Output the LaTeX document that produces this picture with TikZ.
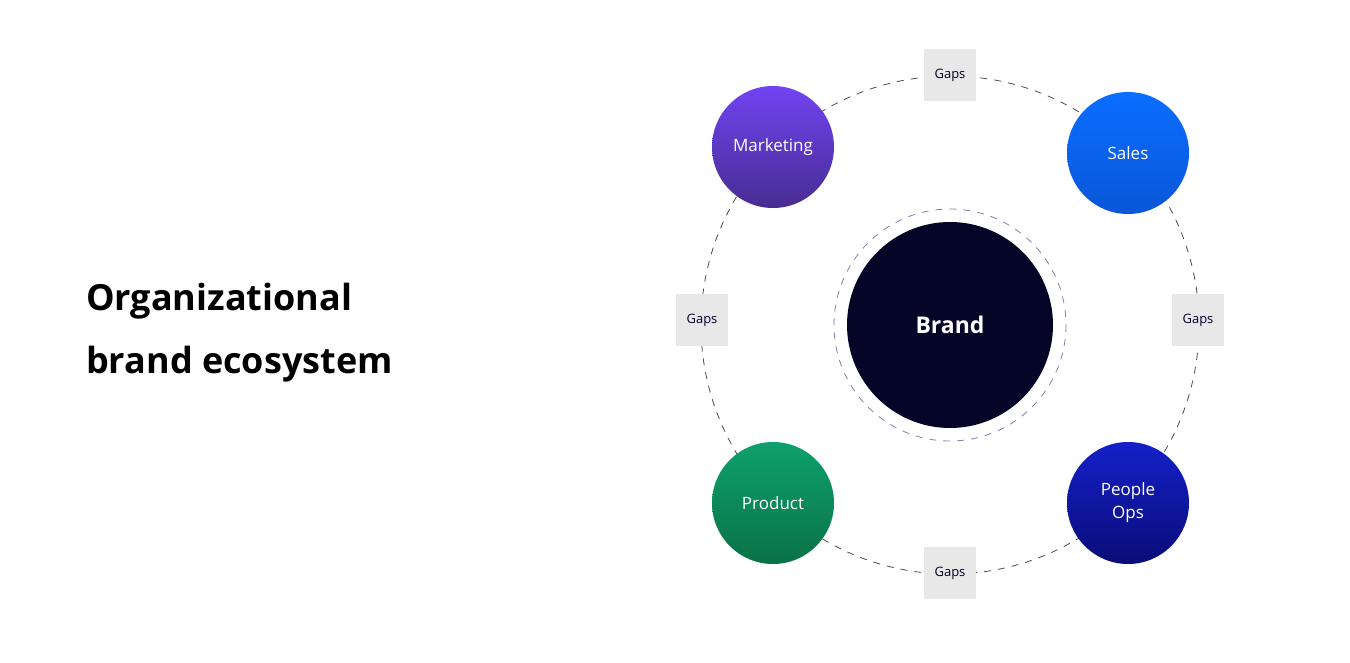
\documentclass[tikz,border=0pt]{standalone}
\usepackage{fontspec}
\setmainfont{Open Sans}
\begin{document}
\begin{tikzpicture}[x=1pt,y=-1pt,
  sat/.style={circle,minimum size=122pt,inner sep=0pt,text=white,font=\fontsize{17}{21}\selectfont,align=center},
  gap/.style={fill=black!9,minimum size=52pt,inner sep=0pt,font=\fontsize{13}{15}\selectfont,text=black!85!blue},
  ring/.style={dash pattern=on 7pt off 7pt,line width=0.8pt}]
\useasboundingbox (0,0) rectangle (1350,662);
\fill[white] (0,0) rectangle (1350,662);
\coordinate (c) at (950,325);
\draw[ring,black!70] (c) circle[radius=249];
\draw[ring,blue!40!black!50] (c) circle[radius=116];
\node[circle,minimum size=206pt,fill={rgb,255:red,5;green,5;blue,40},text=white,font=\bfseries\fontsize{23}{27}\selectfont] (brand) at (c) {Brand};
\node[sat,top color={rgb,255:red,112;green,68;blue,242},bottom color={rgb,255:red,72;green,44;blue,145}] (mk) at (773,147) {Marketing};
\node[sat,top color={rgb,255:red,10;green,110;blue,255},bottom color={rgb,255:red,10;green,86;blue,216}] (sl) at (1128,153) {Sales};
\node[sat,top color={rgb,255:red,14;green,160;blue,110},bottom color={rgb,255:red,10;green,114;blue,70}] (pr) at (773,503) {Product};
\node[sat,top color={rgb,255:red,20;green,32;blue,200},bottom color={rgb,255:red,10;green,12;blue,120}] (po) at (1128,503) {People\\[2pt]Ops};
\node[gap] (g1) at (950,75) {Gaps};
\node[gap] (g2) at (950,573) {Gaps};
\node[gap] (g3) at (702,320) {Gaps};
\node[gap] (g4) at (1198,320) {Gaps};
\node[anchor=base west,font=\bfseries\fontsize{36}{40}\selectfont,inner sep=0pt] (t1) at (86,310) {Organizational};
\node[anchor=base west,font=\bfseries\fontsize{36}{40}\selectfont,inner sep=0pt] (t2) at (86,373) {brand ecosystem};
\end{tikzpicture}
\end{document}
